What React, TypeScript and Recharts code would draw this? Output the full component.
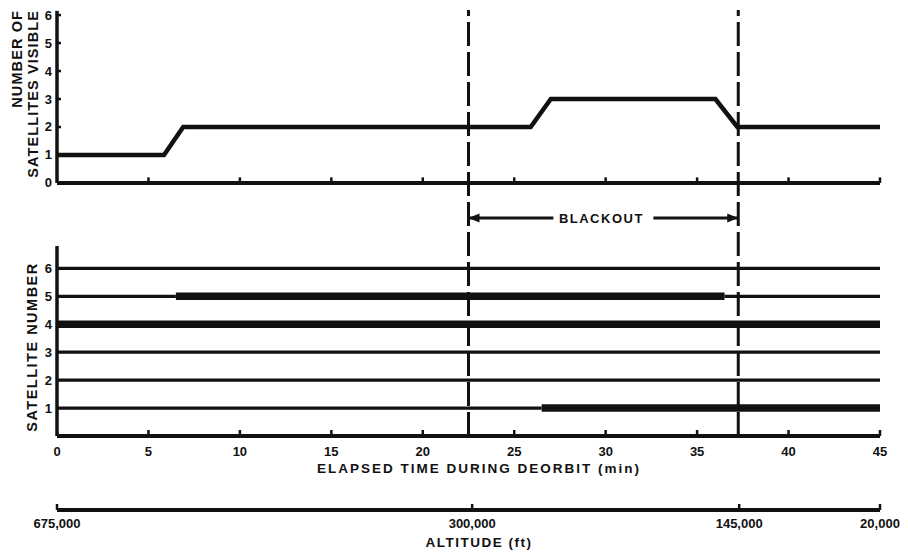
import React from 'react';
import { ComposedChart, Line, XAxis, YAxis, ReferenceLine } from 'recharts';

const timeTicks = [0, 5, 10, 15, 20, 25, 30, 35, 40, 45];
const visTicks = [0, 1, 2, 3, 4, 5, 6];
const satTicks = [1, 2, 3, 4, 5, 6];

// number of satellites visible vs elapsed time (min)
const visTime = [0, 5.85, 6.9, 25.9, 27.0, 36.0, 37.2, 45];
const visCount = [1, 1, 2, 2, 3, 3, 2, 2];

// satellite tracks: heavy = in view, light = not in view
const trackSat = [6, 5, 5, 5, 4, 3, 2, 1, 1];
const trackStart = [0, 0, 6.5, 36.5, 0, 0, 0, 0, 26.5];
const trackEnd = [45, 6.5, 36.5, 45, 45, 45, 45, 26.5, 45];
const trackHeavy = [false, false, true, false, true, false, false, false, true];

const blackoutStart = 22.5;
const blackoutEnd = 37.25;

const altitudeTicks = [0, 22.7, 37.3, 45];
const altitudeLabels = ['675,000', '300,000', '145,000', '20,000'];

const FONT = '"Liberation Sans", Arial, Helvetica, sans-serif';
const INK = '#111';

const visData = visTime.map((t, i) => ({ t, v: visCount[i] }));

const TimeTick = (props: any) => {
  const { x, y, payload } = props;
  return (
    <g>
      {payload.value > 0 && <line x1={x} x2={x} y1={y} y2={y - 6} stroke={INK} strokeWidth={2.5} />}
      <text x={x} y={y + 20} textAnchor="middle" fontSize={13} fontWeight="bold" fontFamily={FONT} fill={INK}>
        {payload.value}
      </text>
    </g>
  );
};

const AltTick = (props: any) => {
  const { x, y, payload } = props;
  const idx = altitudeTicks.indexOf(payload.value);
  return (
    <g>
      <line x1={x} x2={x} y1={y} y2={y - 6} stroke={INK} strokeWidth={2.5} />
      <text x={x} y={y + 18} textAnchor="middle" fontSize={13} fontWeight="bold" fontFamily={FONT} fill={INK}>
        {altitudeLabels[idx]}
      </text>
    </g>
  );
};

const VisTick = (props: any) => {
  const { x, y, payload } = props;
  return (
    <g>
      {payload.value > 0 && <line x1={x} x2={x + 5} y1={y} y2={y} stroke={INK} strokeWidth={2.5} />}
      <text x={x - 4} y={y + 4.5} textAnchor="end" fontSize={13} fontWeight="bold" fontFamily={FONT} fill={INK}>
        {payload.value}
      </text>
    </g>
  );
};

const SatTick = (props: any) => {
  const { x, y, payload } = props;
  return (
    <text x={x - 5} y={y + 4.5} textAnchor="end" fontSize={13} fontWeight="bold" fontFamily={FONT} fill={INK}>
      {payload.value}
    </text>
  );
};

const titleStyle = { fontSize: 14.5, fontWeight: 'bold' as const, fontFamily: FONT, fill: INK, letterSpacing: 1.1 };

const VisTitle = () => (
  <g>
    <text transform="translate(22,10) rotate(-90)" textAnchor="end" {...titleStyle}>NUMBER OF</text>
    <text transform="translate(38,10) rotate(-90)" textAnchor="end" {...titleStyle}>SATELLITES VISIBLE</text>
  </g>
);

const SatTitle = () => (
  <text transform="translate(37,347) rotate(-90)" textAnchor="middle" {...titleStyle} letterSpacing={1.5}>
    SATELLITE NUMBER
  </text>
);

const TimeTitle = () => (
  <text x={479} y={473} textAnchor="middle" fontSize={13.5} fontWeight="bold" fontFamily={FONT} fill={INK} letterSpacing={2}>
    ELAPSED TIME DURING DEORBIT (min)
  </text>
);

const AltTitle = () => (
  <text x={479} y={547} textAnchor="middle" fontSize={13.5} fontWeight="bold" fontFamily={FONT} fill={INK} letterSpacing={1.5}>
    ALTITUDE (ft)
  </text>
);

const BlackoutLabel = (props: any) => {
  const { x, y, width } = props.viewBox;
  const cx = x + width / 2;
  return (
    <g>
      <rect x={cx - 50} y={y - 8} width={100} height={16} fill="#fff" />
      <text x={cx - 2} y={y + 5} textAnchor="middle" fontSize={13} fontWeight="bold" fontFamily={FONT} fill={INK} letterSpacing={1.5}>
        BLACKOUT
      </text>
      <polygon points={`${x},${y} ${x + 11},${y - 4.5} ${x + 11},${y + 4.5}`} fill={INK} />
      <polygon points={`${x + width},${y} ${x + width - 11},${y - 4.5} ${x + width - 11},${y + 4.5}`} fill={INK} />
    </g>
  );
};

export default function App() {
  return (
    <div style={{ position: 'absolute', left: 0, top: 0, width: 908, height: 555, background: '#fff' }}>
      <ComposedChart width={908} height={555} margin={{ top: 10, right: 28, bottom: 0, left: 55 }}>
        <XAxis
          xAxisId="t1"
          dataKey="t"
          type="number"
          domain={[0, 45]}
          allowDataOverflow
          ticks={timeTicks}
          interval={0}
          height={74}
          tickSize={0}
          tickMargin={0}
          tickLine={false}
          axisLine={{ stroke: INK, strokeWidth: 4 }}
          tick={<TimeTick />}
          label={<TimeTitle />}
        />
        <XAxis
          xAxisId="t2"
          dataKey="t"
          type="number"
          domain={[0, 45]}
          allowDataOverflow
          ticks={altitudeTicks}
          interval={0}
          height={45}
          tickSize={0}
          tickMargin={0}
          tickLine={false}
          axisLine={{ stroke: INK, strokeWidth: 4 }}
          tick={<AltTick />}
          label={<AltTitle />}
        />
        <YAxis
          yAxisId="vis"
          type="number"
          domain={[-9.04, 6.18]}
          allowDataOverflow
          ticks={visTicks}
          interval={0}
          width={1}
          tickSize={0}
          tickMargin={0}
          tickLine={false}
          axisLine={false}
          tick={<VisTick />}
          label={<VisTitle />}
        />
        <YAxis
          yAxisId="sat"
          type="number"
          domain={[0, 15.25]}
          allowDataOverflow
          ticks={satTicks}
          interval={0}
          width={1}
          tickSize={0}
          tickMargin={0}
          tickLine={false}
          axisLine={false}
          tick={<SatTick />}
          label={<SatTitle />}
        />

        {/* upper panel axes */}
        <ReferenceLine xAxisId="t1" yAxisId="vis" segment={[{ x: 0, y: 0 }, { x: 45, y: 0 }]} stroke={INK} strokeWidth={4} />
        <ReferenceLine xAxisId="t1" yAxisId="vis" segment={[{ x: 0, y: 0 }, { x: 0, y: 6.15 }]} stroke={INK} strokeWidth={3.5} />
        {timeTicks.filter((t) => t > 0).map((t) => (
          <ReferenceLine
            key={`vt-${t}`}
            xAxisId="t1"
            yAxisId="vis"
            segment={[{ x: t, y: 0 }, { x: t, y: 0.2 }]}
            stroke={INK}
            strokeWidth={2.5}
          />
        ))}

        {/* lower panel y axis */}
        <ReferenceLine xAxisId="t1" yAxisId="sat" segment={[{ x: 0, y: 0 }, { x: 0, y: 6.8 }]} stroke={INK} strokeWidth={3.5} />

        {/* blackout period */}
        <ReferenceLine xAxisId="t1" yAxisId="sat" x={blackoutStart} stroke={INK} strokeWidth={3} strokeDasharray="24 6" />
        <ReferenceLine xAxisId="t1" yAxisId="sat" x={blackoutEnd} stroke={INK} strokeWidth={3} strokeDasharray="24 6" />
        <ReferenceLine
          xAxisId="t1"
          yAxisId="vis"
          segment={[{ x: blackoutStart, y: -1.25 }, { x: blackoutEnd, y: -1.25 }]}
          stroke={INK}
          strokeWidth={3}
          label={<BlackoutLabel />}
        />

        {/* altitude scale shares the time scale; the visible count line is bound to it */}
        <Line
          xAxisId="t2"
          yAxisId="vis"
          data={visData}
          dataKey="v"
          type="linear"
          stroke={INK}
          strokeWidth={4.5}
          dot={false}
          activeDot={false}
          isAnimationActive={false}
        />

        {trackSat.map((s, i) => (
          <Line
            key={`trk-${i}`}
            xAxisId="t1"
            yAxisId="sat"
            data={[{ t: trackStart[i], v: s }, { t: trackEnd[i], v: s }]}
            dataKey="v"
            type="linear"
            stroke={INK}
            strokeWidth={trackHeavy[i] ? 7.5 : 3.2}
            dot={false}
            activeDot={false}
            isAnimationActive={false}
          />
        ))}
      </ComposedChart>
    </div>
  );
}
